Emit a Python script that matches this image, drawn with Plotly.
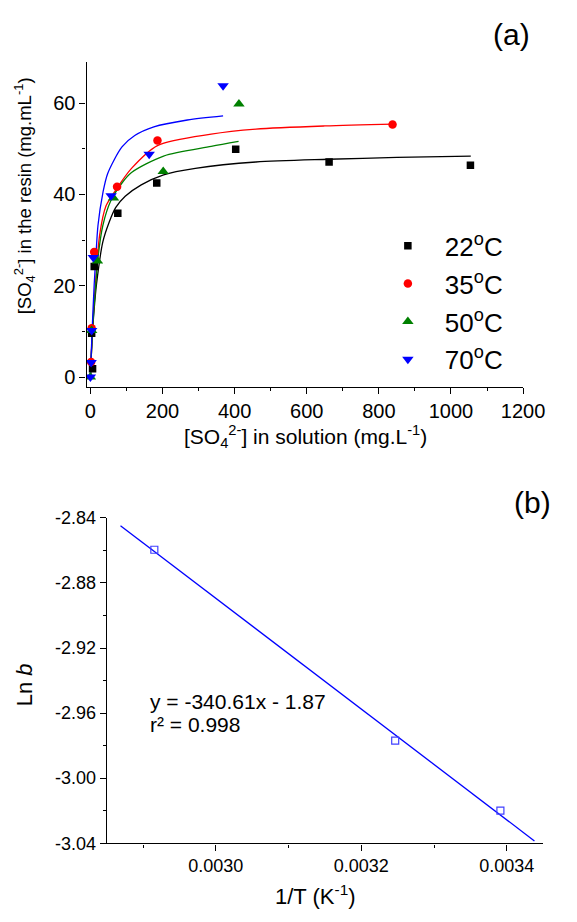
"""Sulphate isotherms on the resin (a) and ln b against 1/T (b)."""
import plotly.graph_objects as go

FONT = "Liberation Sans, Arial, sans-serif"
# the page keeps the browser's 8px body margin, so the figure is 16px smaller
OFF = 8
W, H = 577 - 2 * OFF, 922 - 2 * OFF

temps = ["22<sup>o</sup>C", "35<sup>o</sup>C", "50<sup>o</sup>C", "70<sup>o</sup>C"]
colors = ["#000000", "#ff0000", "#008000", "#0000ff"]
symbols = ["square", "circle", "triangle-up", "triangle-down"]

x22 = [6, 3.5, 10.6, 76, 184, 403, 662, 1054]
y22 = [1.8, 9.6, 24.2, 35.9, 42.5, 49.9, 47.1, 46.4]
x35 = [2, 3.5, 10.6, 74, 186, 838]
y35 = [3.3, 10.7, 27.4, 41.7, 51.8, 55.3]
x50 = [0, 3.5, 19.5, 64, 202, 412]
y50 = [0, 10.2, 25.4, 39.2, 45.0, 59.8]
x70 = [0, 2, 3.5, 8, 57.5, 163, 368]
y70 = [0, 3.2, 10.2, 26.2, 39.7, 48.8, 63.8]

# fitted curves
c22x = [0, 3, 6, 10, 17, 34.5, 52, 70, 96.5, 141, 203, 291, 459, 660, 850, 1055]
c22y = [0, 5.5, 10, 14.5, 20.4, 29.6, 33.9, 37.1, 39.6, 42.1, 44.3, 45.7, 47.1, 47.7, 48.1, 48.4]
c35x = [0, 3, 6, 10, 14, 25.6, 43.4, 74, 114, 186, 335, 459, 650, 841]
c35y = [0, 5.8, 10.8, 16.2, 20.4, 31.1, 37.5, 41.4, 45.7, 50.7, 53.2, 54.3, 55.0, 55.4]
c50x = [0, 3, 6, 10, 15, 21, 34.5, 56.6, 87.6, 114, 203, 335, 411]
c50y = [0, 5.5, 10.2, 15.3, 20.4, 26.1, 33.2, 38.6, 42.5, 44.8, 48.4, 50.5, 51.6]
c70x = [0, 2, 5, 10.6, 15, 21, 34.5, 48, 87.6, 123, 176, 269, 368]
c70y = [0, 4.5, 10.5, 20.4, 26.1, 33.2, 40.3, 44.6, 50.4, 52.9, 54.8, 56.3, 57.2]

# ---- panel (b): ln b vs 1/T
inv_t = [0.0029155, 0.0032466, 0.0033912]
ln_b = [-2.8596, -2.9769, -3.0200]
fit_x = [0.002869, 0.003438]
fit_y = [-2.8448, -3.0386]
lnb_ticks = [-3.04, -3.00, -2.96, -2.92, -2.88, -2.84]
lnb_labels = ["-3.04", "-3.00", "-2.96", "-2.92", "-2.88", "-2.84"]
invt_ticks = [0.0030, 0.0032, 0.0034]
invt_labels = ["0.0030", "0.0032", "0.0034"]


def px_x(x):
    """Window pixel column -> paper fraction."""
    return (x - OFF) / W


def px_y(y):
    """Window pixel row -> paper fraction."""
    return 1 - (y - OFF) / H


def axis_style(size, minor_dtick, **kw):
    style = dict(
        showline=True, linecolor="black", linewidth=1.3, mirror=False,
        ticks="outside", ticklen=6, tickwidth=1.2, tickcolor="black",
        showgrid=False, zeroline=False,
        tickfont=dict(family=FONT, size=size, color="black"),
        minor=dict(ticks="outside", ticklen=3, tickwidth=1.2,
                   tickcolor="black", dtick=minor_dtick, showgrid=False),
    )
    style.update(kw)
    return style


def note(text, x, y, size, xanchor="center", **kw):
    return dict(text=text, x=px_x(x), y=px_y(y), xref="paper", yref="paper",
                xanchor=xanchor, yanchor="middle", showarrow=False,
                font=dict(family=FONT, size=size, color="black"), **kw)


fig = go.Figure()

curves = [(c22x, c22y), (c35x, c35y), (c50x, c50y), (c70x, c70y)]
for (cx, cy), col in zip(curves, colors):
    fig.add_trace(go.Scatter(
        x=cx, y=cy, mode="lines",
        line=dict(color=col, width=1.3, shape="spline", smoothing=0.8),
        showlegend=False, hoverinfo="skip", xaxis="x", yaxis="y"))

points = [(x22, y22), (x35, y35), (x50, y50), (x70, y70)]
for (px_, py_), name, col, sym in zip(points, temps, colors, symbols):
    size = 7.5 if sym == "square" else (8.5 if sym == "circle" else 10)
    fig.add_trace(go.Scatter(
        x=px_, y=py_, mode="markers", name=name, legendgroup=name,
        marker=dict(color=col, symbol=sym, size=size, line=dict(width=0)),
        xaxis="x", yaxis="y"))

fig.add_trace(go.Scatter(
    x=fit_x, y=fit_y, mode="lines", line=dict(color="#0000ff", width=1.3),
    showlegend=False, xaxis="x2", yaxis="y2"))
fig.add_trace(go.Scatter(
    x=inv_t, y=ln_b, mode="markers", showlegend=False,
    marker=dict(symbol="square-open", size=7, color="#4040ff", line=dict(width=1.2)),
    xaxis="x2", yaxis="y2"))

fig.update_layout(
    width=W, height=H, autosize=False,
    margin=dict(l=0, r=0, t=0, b=0),
    paper_bgcolor="white", plot_bgcolor="white",
    font=dict(family=FONT, color="black"),
    xaxis=axis_style(20, 100, domain=[px_x(88), px_x(544)], range=[-10.6, 1200],
                     tick0=0, dtick=200, anchor="y"),
    yaxis=axis_style(20, 10, domain=[px_y(385), px_y(53)], range=[-2.1, 69],
                     tick0=0, dtick=20, anchor="x"),
    xaxis2=axis_style(18, 0.0001, domain=[px_x(109), px_x(565)], range=[0.00285, 0.00345],
                      tickvals=invt_ticks, ticktext=invt_labels, anchor="y2"),
    yaxis2=axis_style(18, 0.02, domain=[px_y(852), px_y(519)], range=[-3.0401, -2.8399],
                      tickvals=lnb_ticks, ticktext=lnb_labels, anchor="x2"),
    legend=dict(x=px_x(385), y=px_y(217), xanchor="left", yanchor="top",
                itemwidth=64, tracegroupgap=1,
                bgcolor="rgba(0,0,0,0)", font=dict(family=FONT, size=26, color="black")),
    annotations=[
        note("(a)", 532, 25, 30),
        note("(b)", 554, 503, 30),
        note("[SO<sub>4</sub><sup>2-</sup>] in solution (mg.L<sup>-1</sup>)", 317, 436, 21),
        note("[SO<sub>4</sub><sup>2-</sup>] in the resin (mg.mL<sup>-1</sup>)", 24, 190, 18.5,
             textangle=-90),
        note("Ln <i>b</i>", 24, 690, 22, textangle=-90),
        note("1/T (K<sup>-1</sup>)", 327, 905, 22),
        note("y = -340.61x - 1.87", 152, 707, 21, xanchor="left"),
        note("r² = 0.998", 152, 730, 21, xanchor="left"),
    ],
)

fig.write_html("out.html")
